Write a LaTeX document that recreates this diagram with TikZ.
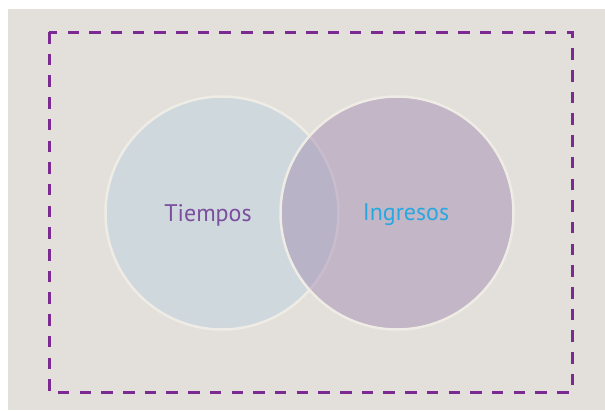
\documentclass[tikz,border=0pt]{standalone}
\usepackage{fontspec}
\setmainfont{PT Sans}
\definecolor{bgcol}{HTML}{E3DFDA}
\definecolor{framecol}{HTML}{7B2A92}
\definecolor{tiemposcol}{HTML}{CFD8DD}
\definecolor{ingresoscol}{HTML}{A58FB4}
\definecolor{rimcol}{HTML}{EFEBE5}
\definecolor{tiempostext}{HTML}{7B4E9E}
\definecolor{ingresostext}{HTML}{2AA7DF}

\begin{document}
\begin{tikzpicture}[x=1pt,y=-1pt,
    venn/.style={circle, draw=rimcol, line width=2.5pt, minimum size=233pt, inner sep=0pt},
    setname/.style={font=\fontsize{24}{28}\selectfont, inner sep=0pt}]
  \useasboundingbox (0,0) rectangle (605,410);
  \fill[bgcol] (8,9) rectangle (605,410);
  \draw[framecol, line width=3pt, dash pattern=on 11.5pt off 10.2pt] (49,32) rectangle (572,392);

  \node[venn, fill=tiemposcol] (tiempos) at (222,213) {};
  \node[venn, fill=ingresoscol, fill opacity=.5] (ingresos) at (397,213) {};

  \node[setname, text=tiempostext] (tiemposlbl) at (208,215) {Tiempos};
  \node[setname, text=ingresostext] (ingresoslbl) at (406,215) {Ingresos};
\end{tikzpicture}
\end{document}
